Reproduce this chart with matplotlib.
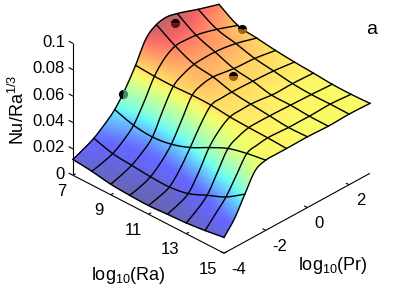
import numpy as np
import matplotlib
matplotlib.use('Agg')
import matplotlib.pyplot as plt
from matplotlib.colors import ListedColormap
from matplotlib.tri import Triangulation
from mpl_toolkits.mplot3d import proj3d

plt.rcParams['font.family'] = ['Liberation Sans', 'DejaVu Sans']
plt.rcParams['mathtext.default'] = 'regular'

log_ra = [7, 8, 9, 10, 11, 12, 13, 14, 15]
log_pr = [-4, -3.5, -3, -2.5, -2, -1.5, -1, -0.5, 0, 0.5, 1, 2, 3]
nu_ra7 = [.0120, .0155, .0194, .0253, .0325, .0436, .0574, .0733, .0796, .0811, .0793, .0739, .0690]
nu_ra8 = [.0104, .0125, .0152, .0205, .0280, .0413, .0565, .0660, .0708, .0710, .0703, .0661, .0604]
nu_ra9 = [.0080, .0105, .0137, .0190, .0265, .0424, .0563, .0615, .0643, .0650, .0650, .0627, .0582]
nu_ra10 = [.0070, .0090, .0124, .0190, .0284, .0425, .0569, .0610, .0621, .0610, .0598, .0588, .0562]
nu_ra11 = [.0066, .0088, .0120, .0210, .0333, .0465, .0567, .0578, .0581, .0579, .0576, .0567, .0548]
nu_ra12 = [.0074, .0102, .0144, .0262, .0406, .0497, .0552, .0560, .0562, .0555, .0544, .0545, .0538]
nu_ra13 = [.0082, .0135, .0205, .0338, .0473, .0520, .0545, .0548, .0547, .0545, .0542, .0536, .0527]
nu_ra14 = [.0098, .0182, .0266, .0388, .0509, .0530, .0541, .0538, .0533, .0533, .0532, .0537, .0525]
nu_ra15 = [.0120, .0218, .0361, .0497, .0532, .0534, .0534, .0535, .0536, .0533, .0530, .0535, .0530]
dot_ra = [7.0, 7.5, 8.3, 10.0]
dot_pr = [-1.62, 0.42, 2.94, 0.97]
dot_nu = [.0411, .0805, .0608, .0542]
ra_ticks = [7, 9, 11, 13, 15]
pr_ticks = [-4, -2, 0, 2]
nu_ticks = [0, 0.02, 0.04, 0.06, 0.08, 0.1]
nu_labels = ['0', '0.02', '0.04', '0.06', '0.08', '0.1']

W, H = 407, 305
Z = np.array([nu_ra7, nu_ra8, nu_ra9, nu_ra10, nu_ra11, nu_ra12, nu_ra13, nu_ra14, nu_ra15])


def smooth(x, v, axis, sub=6):
    """Curved drawing of the table along one axis: a cubic through every read value."""
    x = np.asarray(x, float)
    v = np.moveaxis(v, axis, 0)
    d = np.gradient(v, x, axis=0)
    xs, out = [], []
    for i in range(len(x) - 1):
        h = x[i + 1] - x[i]
        for s in np.arange(sub) / sub:
            h00 = 2 * s**3 - 3 * s**2 + 1
            h10 = s**3 - 2 * s**2 + s
            h01 = -2 * s**3 + 3 * s**2
            h11 = s**3 - s**2
            xs.append(x[i] + s * h)
            out.append(h00 * v[i] + h10 * h * d[i] + h01 * v[i + 1] + h11 * h * d[i + 1])
    xs.append(x[-1])
    out.append(v[-1])
    return np.array(xs), np.moveaxis(np.array(out), 0, axis)


fine_pr, Z1 = smooth(log_pr, Z, 1, sub=5)
fine_ra, Zf = smooth(log_ra, Z1, 0, sub=8)
R, P = np.meshgrid(fine_ra, fine_pr, indexing='ij')

fig = plt.figure(figsize=(W / 100, H / 100), dpi=100)
ax = fig.add_axes([0, 0, 1, 1], projection='3d', proj_type='ortho', computed_zorder=False)
ax.set_box_aspect((210.5, 209.6, 155.8))
ax.view_init(elev=32.1, azim=-45.85)
ax.set_xlim(7, 15, view_margin=0)
ax.set_ylim(-4, 3, view_margin=0)
ax.set_zlim(0, 0.1, view_margin=0)
ax.set_axis_off()


def to_px(x, y, z):
    a, b, _ = proj3d.proj_transform(x, y, z, ax.get_proj())
    p = ax.transData.transform(np.column_stack([np.ravel(a), np.ravel(b)]))
    return p[:, 0], H - p[:, 1]


# place the box so that the axes corners land where the reference has them
size, cx, cy = 300.0, W / 2, H / 2
for _ in range(4):
    ax.set_position([(cx - size / 2) / W, (cy - size / 2) / H, size / W, size / H])
    ax.apply_aspect()
    x0, y0 = to_px(7, -4, 0)
    x1, y1 = to_px(15, -4, 0)
    size *= 151 / (x1[0] - x0[0])
    ax.set_position([(cx - size / 2) / W, (cy - size / 2) / H, size / W, size / H])
    ax.apply_aspect()
    x0, y0 = to_px(7, -4, 0)
    cx += 73 - x0[0]
    cy += y0[0] - 175.3
ax.set_position([(cx - size / 2) / W, (cy - size / 2) / H, size / W, size / H])
ax.apply_aspect()

jet = plt.get_cmap('jet')(np.linspace(0, 1, 512))[:, :3]
pale = ListedColormap(0.6 * jet + 0.4)
color_at = np.interp(Zf, [.0066, .0205, .0336, .0530, .0605, .0715, .0811],
                     [.00, .15, .37, .645, .74, .88, .985])

a, b, _ = proj3d.proj_transform(R.ravel(), P.ravel(), Zf.ravel(), ax.get_proj())
n, m = Zf.shape
tris = []
for i in range(n - 1):
    for j in range(m - 1):
        v = i * m + j
        tris += [[v, v + 1, v + m], [v + 1, v + m + 1, v + m]]
mesh = ax.tripcolor(Triangulation(np.asarray(a), np.asarray(b), np.array(tris)), color_at.ravel(),
                    shading='gouraud', cmap=pale, vmin=0, vmax=1, zorder=1)
mesh.do_3d_projection = lambda: 0

for i, ra in enumerate(fine_ra):
    if float(ra).is_integer():
        ax.plot(R[i], P[i], Zf[i], color='k', lw=1.0, zorder=2)
for j, pr in enumerate(fine_pr):
    if abs(pr - round(pr)) < 1e-9:
        ax.plot(R[:, j], P[:, j], Zf[:, j], color='k', lw=1.0, zorder=2)

alts = ['#3c8a68', '#740a0a', '#a5610f', '#a5610f']
fills = ['left', 'top', 'top', 'top']
for k in range(len(dot_ra)):
    ax.plot([dot_ra[k]], [dot_pr[k]], [dot_nu[k]], 'o', ms=6.6, mew=0, mfc='k',
            fillstyle=fills[k], markerfacecoloralt=alts[k], zorder=3)

axis_kw = dict(color='k', lw=0.8, zorder=2, solid_capstyle='butt')
ax.plot([7, 15], [-4, -4], [0, 0], **axis_kw)
ax.plot([15, 15], [-4, 3], [0, 0], **axis_kw)
ax.plot([7, 7], [-4, -4], [0, 0.1], **axis_kw)
for v in ra_ticks:
    ax.plot([v, v], [-4, -3.87], [0, 0], **axis_kw)
for v in pr_ticks:
    ax.plot([15, 14.83], [v, v], [0, 0], **axis_kw)
for v in nu_ticks:
    ax.plot([7, 6.77], [-4, -4], [v, v], **axis_kw)


def label(px, py, s, size=12, **kw):
    fig.text(px / W, 1 - py / H, s, fontsize=size, va='center', **kw)


for v in ra_ticks:
    x, y = to_px(v, -4, 0)
    label(x[0] - 7, y[0] + 16, str(v), ha='right')
for v in pr_ticks:
    x, y = to_px(15, v, 0)
    label(x[0] + 7, y[0] + 16, str(v), ha='left')
for v, s in zip(nu_ticks, nu_labels):
    x, y = to_px(7, -4, v)
    label(x[0] - 8, y[0] - 1, s, ha='right')

label(18, 110, 'Nu/Ra$^{1/3}$', size=13, ha='center', rotation=90)
label(128, 275, 'log$_{10}$(Ra)', size=13, ha='center')
label(333, 266, 'log$_{10}$(Pr)', size=13, ha='center')
label(372, 29, 'a', size=14, ha='center')

fig.savefig('out.png', dpi=100)
